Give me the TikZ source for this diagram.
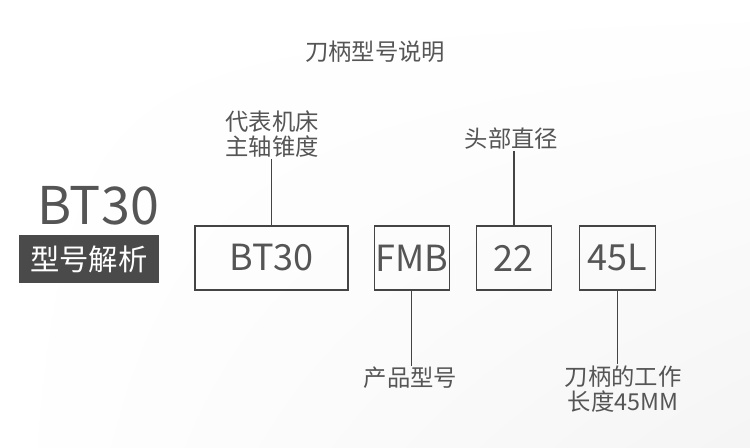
\documentclass[tikz,border=0pt]{standalone}
\usepackage{fontspec}
\setmainfont{Noto Sans CJK SC}
\usetikzlibrary{positioning, shadings}
\definecolor{inkgray}{HTML}{555555}
\definecolor{linegray}{HTML}{444444}
\definecolor{tagfill}{HTML}{4A4A4A}

\begin{document}
\begin{tikzpicture}[x=0.75pt, y=-0.75pt,
  codebox/.style={draw=linegray, line width=0.9pt, minimum height=48pt,
    text=inkgray, font=\fontsize{27pt}{30pt}\selectfont, inner sep=0pt},
  note/.style={text=inkgray, font=\fontsize{17.5pt}{18.5pt}\selectfont,
    align=center, inner sep=1pt},
  lead/.style={draw=linegray, line width=0.9pt}]

  % ── Page ──
  \useasboundingbox (0,0) rectangle (750,448);
  \shade[upper left=white, upper right=white, lower left=white,
    lower right=black!4] (0,0) rectangle (750,448);

  % ── Title ──
  \node[note] (title) at (375,52) {刀柄型号说明};

  % ── Left tag ──
  \node[text=inkgray, font=\fontsize{39pt}{42pt}\selectfont, inner sep=0pt]
    (bigname) at (98,206) {BT30};
  \node[fill=tagfill, text=white, font=\fontsize{22pt}{24pt}\selectfont,
    minimum width=105pt, minimum height=36pt, inner sep=0pt]
    (tagbox) at (89,259) {型号解析};

  % ── Code boxes ──
  \node[codebox, minimum width=114.75pt] (bt) at (271.5,258) {BT30};
  \node[codebox, minimum width=56.25pt, right=18.75pt of bt] (fmb) {FMB};
  \node[codebox, minimum width=56.25pt, right=19.5pt of fmb] (dia) {22};
  \node[codebox, minimum width=57pt, right=20.25pt of dia] (len) {45L};

  % ── Labels ──
  \node[note] (lbt) at (272,134) {代表机床\\主轴锥度};
  \node[note] (ldia) at (511.5,139) {头部直径};
  \node[note] (lfmb) at (410.5,378) {产品型号};
  \node[note] (llen) at (623,389) {刀柄的工作\\长度45MM};

  % Leader lines
  \draw[lead] (bt.north) -- (bt.north |- lbt.south);
  \draw[lead] (dia.north) -- (dia.north |- ldia.south);
  \draw[lead] (fmb.south) -- (fmb.south |- lfmb.north);
  \draw[lead] (len.south) -- (len.south |- llen.north);
\end{tikzpicture}
\end{document}
